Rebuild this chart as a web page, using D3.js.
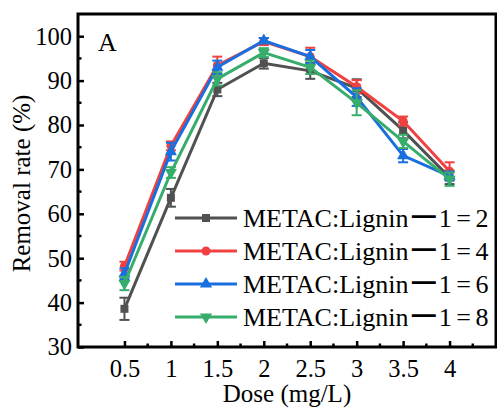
<!DOCTYPE html>
<html>
<head>
<meta charset="utf-8">
<script src="https://cdn.jsdelivr.net/npm/d3@7"></script>
<style>
  body { margin: 0; background: #fff; }
  svg text { font-family: "Liberation Serif", "Times New Roman", "Noto Sans CJK SC", serif; fill: #000; }
</style>
</head>
<body>
<svg id="chart" width="497" height="412"></svg>
<script>
// data
const doses = [0.5, 1, 1.5, 2, 2.5, 3, 3.5, 4];
const ratio2 = [38.6, 63.6, 88.0, 93.9, 92.2, 88.3, 78.8, 68.2];
const ratio2Err = [2.5, 2.0, 1.5, 1.2, 1.8, 2.0, 1.8, 1.5];
const ratio4 = [48.2, 75.3, 93.4, 98.8, 95.4, 88.6, 80.9, 69.6];
const ratio4Err = [1.0, 1.0, 2.0, 0.8, 2.0, 1.5, 1.0, 2.0];
const ratio6 = [46.5, 74.0, 93.0, 99.0, 95.4, 86.3, 73.1, 68.5];
const ratio6Err = [1.2, 2.0, 1.5, 0.6, 1.5, 2.0, 1.5, 1.0];
const ratio8 = [44.3, 69.3, 90.4, 96.3, 93.0, 85.0, 76.3, 67.8];
const ratio8Err = [1.5, 1.2, 1.5, 1.0, 1.5, 2.8, 1.5, 1.5];
const seriesNames = ["METAC:Lignin\u200A一\u200A1 = 2", "METAC:Lignin\u200A一\u200A1 = 4",
                     "METAC:Lignin\u200A一\u200A1 = 6", "METAC:Lignin\u200A一\u200A1 = 8"];
const xTicks = [0.5, 1, 1.5, 2, 2.5, 3, 3.5, 4];
const yTicks = [30, 40, 50, 60, 70, 80, 90, 100];

const series = [
  {name: seriesNames[0], values: ratio2, errs: ratio2Err, color: "#515151", symbol: d3.symbolSquare, rot: 0},
  {name: seriesNames[1], values: ratio4, errs: ratio4Err, color: "#F14040", symbol: d3.symbolCircle, rot: 0},
  {name: seriesNames[2], values: ratio6, errs: ratio6Err, color: "#1A6FDF", symbol: d3.symbolTriangle, rot: 0},
  {name: seriesNames[3], values: ratio8, errs: ratio8Err, color: "#37AD6B", symbol: d3.symbolTriangle, rot: 180}
];

const svg = d3.select("#chart");
const margin = {top: 14, right: 1, bottom: 65, left: 78};
const width = +svg.attr("width") - margin.left - margin.right;
const height = +svg.attr("height") - margin.top - margin.bottom;
const g = svg.append("g").attr("transform", `translate(${margin.left},${margin.top})`);

const x = d3.scaleLinear().domain([0, 4.5]).range([0, width]);
const y = d3.scaleLinear().domain([30, 105]).range([height, 0]);

// minor ticks
const xMinor = d3.range(0.75, 4.3, 0.5);
const yMinor = d3.range(35, 100, 10);

const xAxis = g.append("g").attr("transform", `translate(0,${height})`)
  .call(d3.axisBottom(x).tickValues(xTicks).tickSize(-6).tickPadding(13).tickFormat(d3.format("")));
const yAxis = g.append("g")
  .call(d3.axisLeft(y).tickValues(yTicks).tickSize(-6).tickPadding(6));
[xAxis, yAxis].forEach(ax => {
  ax.attr("font-family", null);
  ax.select(".domain").remove();
  ax.selectAll(".tick line").attr("stroke", "#000").attr("stroke-width", 2.5);
  ax.selectAll(".tick text").style("font-size", "24.5px").attr("fill", "#000");
});
xAxis.selectAll(".tick text").attr("dy", "0.71em");

g.append("g").selectAll("line").data(xMinor).join("line")
  .attr("x1", d => x(d)).attr("x2", d => x(d))
  .attr("y1", height).attr("y2", height - 3.5)
  .attr("stroke", "#000").attr("stroke-width", 2.5);
g.append("g").selectAll("line").data(yMinor).join("line")
  .attr("y1", d => y(d)).attr("y2", d => y(d))
  .attr("x1", 0).attr("x2", 3.5)
  .attr("stroke", "#000").attr("stroke-width", 2.5);

// series
const line = d3.line().x((d, i) => x(doses[i])).y(d => y(d));
series.forEach(s => {
  const sg = g.append("g");
  sg.append("path").datum(s.values)
    .attr("fill", "none").attr("stroke", s.color).attr("stroke-width", 3)
    .attr("d", line);
  const eb = sg.selectAll(".eb").data(s.values).join("g");
  eb.append("line")
    .attr("x1", (d, i) => x(doses[i])).attr("x2", (d, i) => x(doses[i]))
    .attr("y1", (d, i) => y(d - s.errs[i])).attr("y2", (d, i) => y(d + s.errs[i]))
    .attr("stroke", s.color).attr("stroke-width", 2);
  [-1, 1].forEach(sign => {
    eb.append("line")
      .attr("x1", (d, i) => x(doses[i]) - 5).attr("x2", (d, i) => x(doses[i]) + 5)
      .attr("y1", (d, i) => y(d + sign * s.errs[i])).attr("y2", (d, i) => y(d + sign * s.errs[i]))
      .attr("stroke", s.color).attr("stroke-width", 2);
  });
  sg.selectAll(".pt").data(s.values).join("path")
    .attr("d", d3.symbol(s.symbol, 64))
    .attr("transform", (d, i) => `translate(${x(doses[i])},${y(d)}) rotate(${s.rot})`)
    .attr("fill", s.color);
});

// frame
g.append("rect").attr("x", 0).attr("y", 0).attr("width", width).attr("height", height)
  .attr("fill", "none").attr("stroke", "#000").attr("stroke-width", 3);

// panel label
g.append("text").attr("x", 20).attr("y", 37).style("font-size", "26px").text("A");

// legend
const legend = g.append("g").attr("transform", `translate(${175 - margin.left},${218 - margin.top})`);
series.forEach((s, i) => {
  const row = legend.append("g").attr("transform", `translate(0,${i * 33})`);
  row.append("line").attr("x1", 0).attr("x2", 62).attr("y1", 0).attr("y2", 0)
    .attr("stroke", s.color).attr("stroke-width", 3);
  row.append("path").attr("d", d3.symbol(s.symbol, 64))
    .attr("transform", `translate(31,0) rotate(${s.rot})`).attr("fill", s.color);
  row.append("text").attr("x", 68).attr("dy", "0.35em")
    .style("font-size", "26px").style("font-weight", 500).style("word-spacing", "-2px")
    .text(s.name);
});

// axis titles
svg.append("text").attr("x", margin.left + width / 2).attr("y", 402)
  .attr("text-anchor", "middle").style("font-size", "25px").text("Dose (mg/L)");
svg.append("text").attr("transform", `translate(30,${margin.top + height / 2 + 3}) rotate(-90)`)
  .attr("text-anchor", "middle").style("font-size", "25px").text("Removal rate (%)");
</script>
</body>
</html>
